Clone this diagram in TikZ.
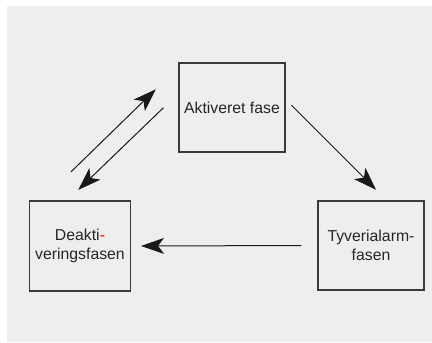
\documentclass[tikz,border=0pt]{standalone}
\usepackage{fontspec}
\setmainfont{Liberation Sans}
\usetikzlibrary{arrows.meta, calc}

\definecolor{panelgray}{HTML}{EEEEEE}
\definecolor{boxline}{HTML}{3A3A3A}

\begin{document}
\begin{tikzpicture}[x=1pt, y=-1pt, >={Stealth[length=23pt, width=16pt, inset=6pt]},
    phase/.style={draw=boxline, line width=1.1pt, fill=panelgray,
                  minimum width=106pt, minimum height=89pt, inner sep=0pt,
                  align=center, text=black!85,
                  font=\fontsize{15.8}{18.3}\selectfont},
    flow/.style={->, line width=1pt, black!90}]
  % panel and margins
  \useasboundingbox (0,0) rectangle (432,343);
  \fill[panelgray] (7,6) rectangle (432,342);

  \node[phase] (akt) at (232,107.5) {Aktiveret fase};
  \node[phase, minimum width=101pt, minimum height=90pt] (deak) at (80,246)
    {Deakti\textcolor{red}{-}\\veringsfasen};
  \node[phase] (tyv) at (371,245.5) {Tyverialarm-\\fasen};

  % arrow ends
  \coordinate (upS) at ($(deak.north)+(-9,-28.6)$);
  \coordinate (upE) at ($(akt.west)+(-22.7,-18.2)$);
  \coordinate (dnS) at ($(akt.west)+(-15,0.2)$);
  \coordinate (dnE) at ($(deak.north)+(-1.7,-10.6)$);
  \coordinate (rtS) at ($(akt.east)+(5.7,-2.5)$);
  \coordinate (rtE) at ($(tyv.north)+(5,-10.7)$);

  \draw[flow] (upS) -- (upE);
  \draw[flow] (dnS) -- (dnE);
  \draw[flow] (rtS) -- (rtE);
  \draw[flow, shorten <=16pt, shorten >=10pt] (tyv.west) -- (deak.east);
\end{tikzpicture}
\end{document}
